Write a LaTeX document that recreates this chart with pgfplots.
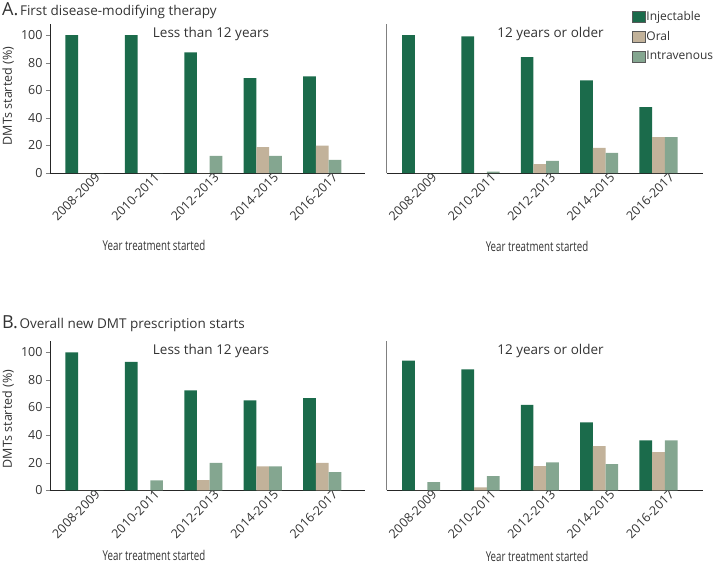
\documentclass[border=0pt]{standalone}
\usepackage{pgfplots}
\pgfplotsset{compat=1.18}
\usepackage{fontspec}
\setmainfont{Open Sans}
\newfontfamily\condfont[FakeStretch=0.72]{Open Sans}
\definecolor{inj}{HTML}{1B6B4B}
\definecolor{ora}{HTML}{C2B29A}
\definecolor{iv}{HTML}{84A690}
\definecolor{txt}{HTML}{333333}
\newcommand{\tf}{\fontsize{12.5}{14}\selectfont}
\pgfplotsset{
 panel/.style={
  scale only axis, width=315pt, height=149pt, anchor=south west,
  xmin=-0.58, xmax=4.72, ymin=0, ymax=108,
  axis x line*=bottom, axis y line*=left,
  axis line style={line width=0.9pt, color=black!85},
  xtick={0,1,2,3,4},
  xticklabels={2008-2009,2010-2011,2012-2013,2014-2015,2016-2017},
  major x tick style={draw=none},
  xticklabel style={rotate=45, anchor=north east, xshift=14pt, font=\tf, text=txt},
  ytick={0,20,40,60,80,100},
  major tick length=4pt, tick align=outside,
  yticklabel style={font=\tf, text=txt},
  /pgf/number format/assume math mode=true,
  ybar, bar width=12.7pt,
  clip=false,
 },
 rightp/.style={panel, width=316.3pt, xmax=4.75, ytick=\empty, y axis line style={color=gray}},
 lg/.style={legend image code/.code={\filldraw[##1, draw=black!65, line width=0.6pt] (0pt,-5.5pt) rectangle (12.5pt,5.5pt);}},
}
\begin{document}
\begin{tikzpicture}
\useasboundingbox (0pt,0pt) rectangle (713pt,-570pt);
% ---------- Panel A left
\begin{axis}[panel, at={(50pt,-173pt)}]
\addplot[fill=inj, draw=none, bar shift=-12.7pt] coordinates {(0,100) (1,100) (2,87.5) (3,68.7) (4,70.1)};
\addplot[fill=ora, draw=none, bar shift=0pt] coordinates {(0,0) (1,0) (2,0) (3,18.8) (4,19.8)};
\addplot[fill=iv, draw=none, bar shift=12.7pt] coordinates {(0,0) (1,0) (2,12.5) (3,12.5) (4,9.6)};
\end{axis}
% ---------- Panel A right
\begin{axis}[rightp, at={(386.7pt,-173pt)},
  legend style={at={(0.776,1.095)}, anchor=north west, draw=none, fill=none, font=\fontsize{12}{14}\selectfont, text=txt, row sep=7.5pt, inner sep=0pt, nodes={inner sep=1pt}},
  legend cell align=left]
\addplot[fill=inj, draw=none, bar shift=-12.7pt, lg] coordinates {(0,100) (1,99) (2,84) (3,67.2) (4,47.7)};
\addplot[fill=ora, draw=none, bar shift=0pt, lg] coordinates {(0,0) (1,0) (2,6.5) (3,18.3) (4,26)};
\addplot[fill=iv, draw=none, bar shift=12.7pt, lg] coordinates {(0,0) (1,1) (2,8.7) (3,14.5) (4,26)};
\legend{Injectable, Oral, Intravenous}
\end{axis}
% ---------- Panel B left
\begin{axis}[panel, at={(50pt,-490.3pt)}]
\addplot[fill=inj, draw=none, bar shift=-12.7pt] coordinates {(0,100) (1,93) (2,72.5) (3,65.1) (4,66.8)};
\addplot[fill=ora, draw=none, bar shift=0pt] coordinates {(0,0) (1,0) (2,7.4) (3,17.3) (4,19.9)};
\addplot[fill=iv, draw=none, bar shift=12.7pt] coordinates {(0,0) (1,7.2) (2,19.9) (3,17.3) (4,13.2)};
\end{axis}
% ---------- Panel B right
\begin{axis}[rightp, at={(386.7pt,-490.3pt)}]
\addplot[fill=inj, draw=none, bar shift=-12.7pt] coordinates {(0,94) (1,87.7) (2,62) (3,49.3) (4,36.1)};
\addplot[fill=ora, draw=none, bar shift=0pt] coordinates {(0,0) (1,2.2) (2,17.5) (3,32) (4,27.6)};
\addplot[fill=iv, draw=none, bar shift=12.7pt] coordinates {(0,6) (1,10.3) (2,20.2) (3,19) (4,36.1)};
\end{axis}
% ---------- texts
\node[anchor=base west, text=txt, inner sep=0] at (2pt,-16pt) {{\fontsize{18}{18}\selectfont A.}\,{\fontsize{13.5}{15}\selectfont First disease-modifying therapy}};
\node[anchor=base west, text=txt, inner sep=0] at (2pt,-328pt) {{\fontsize{18}{18}\selectfont B.}\,{\fontsize{13.5}{15}\selectfont Overall new DMT prescription starts}};
\node[anchor=base, text=txt, inner sep=0, font=\fontsize{13.5}{15}\selectfont] at (211pt,-37.3pt) {Less than 12 years};
\node[anchor=base, text=txt, inner sep=0, font=\fontsize{13.5}{15}\selectfont] at (550.5pt,-37.3pt) {12 years or older};
\node[anchor=base, text=txt, inner sep=0, font=\fontsize{13.5}{15}\selectfont] at (211pt,-354pt) {Less than 12 years};
\node[anchor=base, text=txt, inner sep=0, font=\fontsize{13.5}{15}\selectfont] at (550.5pt,-354pt) {12 years or older};
\node[rotate=90, anchor=base, text=txt, inner sep=0, font=\fontsize{12.5}{14}\selectfont] at (12pt,-96pt) {DMTs started (\%)};
\node[rotate=90, anchor=base, text=txt, inner sep=0, font=\fontsize{12.5}{14}\selectfont] at (12pt,-419pt) {DMTs started (\%)};
\node[anchor=base, text=txt, inner sep=0, font=\condfont\fontsize{13.5}{15}\selectfont] at (154pt,-250pt) {Year treatment started};
\node[anchor=base, text=txt, inner sep=0, font=\condfont\fontsize{13.5}{15}\selectfont] at (537pt,-251pt) {Year treatment started};
\node[anchor=base, text=txt, inner sep=0, font=\condfont\fontsize{13.5}{15}\selectfont] at (154pt,-560pt) {Year treatment started};
\node[anchor=base, text=txt, inner sep=0, font=\condfont\fontsize{13.5}{15}\selectfont] at (537pt,-561pt) {Year treatment started};
\end{tikzpicture}
\end{document}
